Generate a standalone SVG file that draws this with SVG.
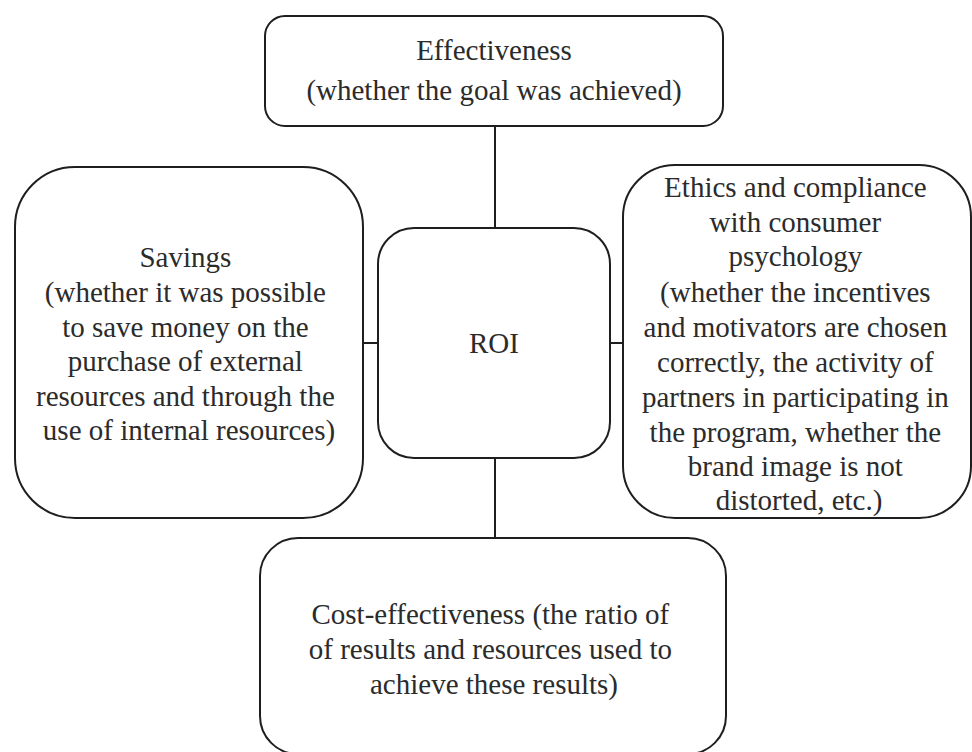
<svg xmlns="http://www.w3.org/2000/svg" width="972" height="752" viewBox="0 0 972 752">
  <style>
    .box { fill: #ffffff; stroke: #1e1e1e; stroke-width: 2; }
    .link { stroke: #1e1e1e; stroke-width: 2; fill: none; }
    .lbl { font-family: "Liberation Serif", "Times New Roman", serif; font-size: 29px; fill: #2b2b2b; text-anchor: middle; }
  </style>
  <rect width="972" height="752" fill="#ffffff"/>

  <!-- connectors: everything hangs off the ROI box -->
  <g id="connectors">
    <line class="link" x1="495" y1="126" x2="495" y2="228"/>
    <line class="link" x1="363" y1="343" x2="378" y2="343"/>
    <line class="link" x1="610" y1="343" x2="623" y2="343"/>
    <line class="link" x1="495" y1="458" x2="495" y2="538"/>
  </g>

  <g id="effectiveness">
    <rect class="box" x="265" y="16" width="458" height="110" rx="20"/>
    <text class="lbl" x="494" y="60">Effectiveness</text>
    <text class="lbl" x="494" y="100">(whether the goal was achieved)</text>
  </g>

  <g id="savings">
    <rect class="box" x="15" y="167" width="348" height="351" rx="60"/>
    <text class="lbl" x="189">
      <tspan x="189" y="267">Savings</tspan>
      <tspan x="189" y="302">(whether it was possible</tspan>
      <tspan x="189" y="336.5">to save money on the</tspan>
      <tspan x="189" y="371">purchase of external</tspan>
      <tspan x="189" y="405.5">resources and through the</tspan>
      <tspan x="189" y="440">use of internal resources)</tspan>
    </text>
  </g>

  <g id="roi">
    <rect class="box" x="378" y="228" width="232" height="230" rx="36"/>
    <text class="lbl" x="494" y="353">ROI</text>
  </g>

  <g id="ethics">
    <rect class="box" x="623" y="165" width="348" height="353" rx="52"/>
    <text class="lbl" x="799">
      <tspan x="799" y="197">Ethics and compliance</tspan>
      <tspan x="799" y="231.5">with consumer</tspan>
      <tspan x="799" y="266">psychology</tspan>
      <tspan x="799" y="301.5">(whether the incentives</tspan>
      <tspan x="799" y="336.5">and motivators are chosen</tspan>
      <tspan x="799" y="371.5">correctly, the activity of</tspan>
      <tspan x="799" y="406.5">partners in participating in</tspan>
      <tspan x="799" y="441.5">the program, whether the</tspan>
      <tspan x="799" y="476">brand image is not</tspan>
      <tspan x="799" y="510">distorted, etc.)</tspan>
    </text>
  </g>

  <g id="cost-effectiveness">
    <rect class="box" x="260" y="538" width="466" height="216" rx="38"/>
    <text class="lbl" x="494">
      <tspan x="494" y="623.5">Cost-effectiveness (the ratio of</tspan>
      <tspan x="494" y="659">of results and resources used to</tspan>
      <tspan x="494" y="694">achieve these results)</tspan>
    </text>
  </g>
</svg>
